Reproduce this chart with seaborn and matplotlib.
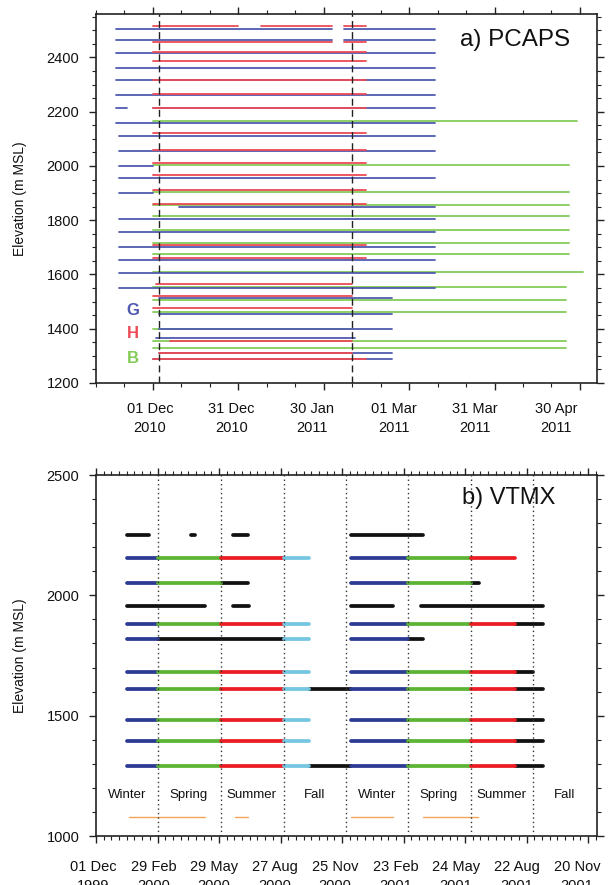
import matplotlib
matplotlib.use("Agg")
import matplotlib.pyplot as plt
import matplotlib.dates as mdates
import matplotlib.ticker as mticker
from matplotlib.transforms import ScaledTranslation
import seaborn as sns
import pandas as pd

sns.set_theme(style="ticks")
plt.rcParams["font.family"] = ["Liberation Sans", "DejaVu Sans"]

# ---------------- a) PCAPS : sensor records per network ----------------
g_elev = [2505, 2505, 2465, 2465, 2415, 2360, 2315, 2260, 2215, 2215, 2160, 2110, 2055, 2000,
          1955, 1900, 1850, 1805, 1755, 1700, 1655, 1605, 1550, 1515, 1455, 1400, 1365, 1310, 1290]
g_start = ["2010-11-18", "2011-02-06", "2010-11-18", "2011-02-06", "2010-11-18", "2010-11-18",
           "2010-11-18", "2010-11-18", "2010-11-18", "2010-12-01", "2010-11-18", "2010-11-19",
           "2010-11-19", "2010-11-19", "2010-11-19", "2010-11-19", "2010-12-10", "2010-11-19",
           "2010-11-19", "2010-11-19", "2010-11-19", "2010-11-19", "2010-11-19", "2010-12-03",
           "2010-12-03", "2010-12-03", "2010-12-02", "2010-12-03", "2010-12-01"]
g_end = ["2011-02-02", "2011-03-10", "2011-02-02", "2011-03-10", "2011-03-10", "2011-03-10",
         "2011-03-10", "2011-03-10", "2010-11-22", "2011-03-10", "2011-03-10", "2011-03-10",
         "2011-03-10", "2010-12-01", "2011-03-10", "2010-12-01", "2011-03-10", "2011-03-10",
         "2011-03-10", "2011-03-10", "2011-03-10", "2011-03-10", "2011-03-10", "2011-02-23",
         "2011-02-23", "2011-02-23", "2011-02-10", "2011-02-23", "2011-02-23"]

h_elev = [2515, 2515, 2515, 2455, 2455, 2420, 2385, 2315, 2265, 2215, 2120, 2060, 2010, 1965,
          1910, 1860, 1710, 1660, 1565, 1520, 1475, 1355, 1310, 1290]
h_start = ["2010-12-01", "2011-01-08", "2011-02-06", "2010-12-01", "2011-02-06", "2010-12-01",
           "2010-12-01", "2010-12-01", "2010-12-01", "2010-12-01", "2010-12-01", "2010-12-01",
           "2010-12-01", "2010-12-01", "2010-12-01", "2010-12-01", "2010-12-01", "2010-12-01",
           "2010-12-02", "2010-12-01", "2010-12-01", "2010-12-07", "2010-12-03", "2010-12-01"]
h_end = ["2010-12-31", "2011-02-02", "2011-02-14", "2011-02-02", "2011-02-14", "2011-02-14",
         "2011-02-14", "2011-02-14", "2011-02-14", "2011-02-14", "2011-02-14", "2011-02-14",
         "2011-02-14", "2011-02-14", "2011-02-14", "2011-02-14", "2011-02-14", "2011-02-14",
         "2011-02-09", "2011-02-09", "2011-02-09", "2011-02-09", "2011-02-09", "2011-02-14"]

b_elev = [2165, 2005, 1905, 1855, 1815, 1765, 1715, 1675, 1610, 1555, 1505, 1460, 1400, 1355, 1330]
b_start = ["2010-12-01"] * 15
b_end = ["2011-04-29", "2011-04-26", "2011-04-26", "2011-04-26", "2011-04-26", "2011-04-26",
         "2011-04-26", "2011-04-26", "2011-05-01", "2011-04-25", "2011-04-25", "2011-04-25",
         "2011-02-09", "2011-04-25", "2011-04-25"]

iop_bounds = ["2010-12-03", "2011-02-09"]
net_labels = ["G", "H", "B"]
net_label_elev = [1469, 1381, 1292]
net_colors = {"G": "#4f5ab0", "H": "#ec4b55", "B": "#84cc58"}

a_major = ["2010-12-01", "2010-12-31", "2011-01-30", "2011-03-01", "2011-03-31", "2011-04-30"]

# ---------------- b) VTMX : seasonal records per level ----------------
vt_elev = [2250, 2250, 2250, 2250,
           2155, 2155, 2155, 2155, 2155, 2155, 2155,
           2050, 2050, 2050, 2050, 2050, 2050,
           1955, 1955, 1955, 1955,
           1880, 1880, 1880, 1880, 1880, 1880, 1880, 1880,
           1820, 1820, 1820, 1820, 1820,
           1680, 1680, 1680, 1680, 1680, 1680, 1680, 1680,
           1610, 1610, 1610, 1610, 1610, 1610, 1610, 1610, 1610,
           1480, 1480, 1480, 1480, 1480, 1480, 1480, 1480,
           1395, 1395, 1395, 1395, 1395, 1395, 1395, 1395,
           1290, 1290, 1290, 1290, 1290, 1290, 1290, 1290, 1290]
vt_start = ["2000-01-16", "2000-04-18", "2000-06-19", "2000-12-08",
            "2000-01-16", "2000-03-01", "2000-06-01", "2000-09-01", "2000-12-08", "2001-03-01", "2001-06-01",
            "2000-01-16", "2000-03-01", "2000-06-01", "2000-12-08", "2001-03-01", "2001-06-01",
            "2000-01-16", "2000-06-19", "2000-12-08", "2001-03-21",
            "2000-01-16", "2000-03-01", "2000-06-01", "2000-09-01", "2000-12-08", "2001-03-01", "2001-06-01", "2001-08-05",
            "2000-01-16", "2000-03-01", "2000-09-01", "2000-12-08", "2001-03-02",
            "2000-01-16", "2000-03-01", "2000-06-01", "2000-09-01", "2000-12-08", "2001-03-01", "2001-06-01", "2001-08-05",
            "2000-01-16", "2000-03-01", "2000-06-01", "2000-09-01", "2000-10-07", "2000-12-08", "2001-03-01", "2001-06-01", "2001-08-05",
            "2000-01-16", "2000-03-01", "2000-06-01", "2000-09-01", "2000-12-08", "2001-03-01", "2001-06-01", "2001-08-05",
            "2000-01-16", "2000-03-01", "2000-06-01", "2000-09-01", "2000-12-08", "2001-03-01", "2001-06-01", "2001-08-05",
            "2000-01-16", "2000-03-01", "2000-06-01", "2000-09-01", "2000-10-07", "2000-12-08", "2001-03-01", "2001-06-01", "2001-08-05"]
vt_end = ["2000-02-16", "2000-04-24", "2000-07-11", "2001-03-24",
          "2000-03-01", "2000-06-01", "2000-09-01", "2000-10-07", "2001-03-01", "2001-06-01", "2001-08-05",
          "2000-03-01", "2000-06-01", "2000-07-11", "2001-03-01", "2001-06-01", "2001-06-14",
          "2000-05-09", "2000-07-12", "2001-02-08", "2001-09-15",
          "2000-03-01", "2000-06-01", "2000-09-01", "2000-10-07", "2001-03-01", "2001-06-01", "2001-08-05", "2001-09-15",
          "2000-03-01", "2000-09-01", "2000-10-07", "2001-03-02", "2001-03-24",
          "2000-03-01", "2000-06-01", "2000-09-01", "2000-10-07", "2001-03-01", "2001-06-01", "2001-08-05", "2001-09-01",
          "2000-03-01", "2000-06-01", "2000-09-01", "2000-10-07", "2000-12-08", "2001-03-01", "2001-06-01", "2001-08-05", "2001-09-15",
          "2000-03-01", "2000-06-01", "2000-09-01", "2000-10-07", "2001-03-01", "2001-06-01", "2001-08-05", "2001-09-15",
          "2000-03-01", "2000-06-01", "2000-09-01", "2000-10-07", "2001-03-01", "2001-06-01", "2001-08-05", "2001-09-15",
          "2000-03-01", "2000-06-01", "2000-09-01", "2000-10-07", "2000-12-08", "2001-03-01", "2001-06-01", "2001-08-05", "2001-09-15"]
vt_kind = ["X", "X", "X", "X",
           "W", "Sp", "Su", "F", "W", "Sp", "Su",
           "W", "Sp", "X", "W", "Sp", "X",
           "X", "X", "X", "X",
           "W", "Sp", "Su", "F", "W", "Sp", "Su", "X",
           "W", "X", "F", "W", "X",
           "W", "Sp", "Su", "F", "W", "Sp", "Su", "X",
           "W", "Sp", "Su", "F", "X", "W", "Sp", "Su", "X",
           "W", "Sp", "Su", "F", "W", "Sp", "Su", "X",
           "W", "Sp", "Su", "F", "W", "Sp", "Su", "X",
           "W", "Sp", "Su", "F", "X", "W", "Sp", "Su", "X"]
kind_colors = {"X": "#111111", "W": "#2c3a92", "Sp": "#5cb434", "Su": "#ec1c24", "F": "#74c6e2"}

gap_elev = [1080, 1080, 1080, 1080]
gap_start = ["2000-01-18", "2000-06-21", "2000-12-08", "2001-03-23"]
gap_end = ["2000-05-08", "2000-07-10", "2001-02-07", "2001-06-12"]

season_bounds = ["2000-03-01", "2000-06-01", "2000-09-01", "2000-12-01",
                 "2001-03-01", "2001-06-01", "2001-09-01"]
season_names = ["Winter", "Spring", "Summer", "Fall", "Winter", "Spring", "Summer", "Fall"]
season_mid = ["2000-01-15", "2000-04-15", "2000-07-16", "2000-10-16",
              "2001-01-15", "2001-04-15", "2001-07-16", "2001-10-16"]
season_label_elev = 1170

b_major = pd.date_range("1999-12-01", periods=9, freq="90D")


def seg_frame(elev, start, end, group, tag):
    n = len(elev)
    ids = [f"{tag}{i}" for i in range(n)]
    grp = [group] * n if isinstance(group, str) else list(group)
    return pd.DataFrame({
        "seg": ids * 2,
        "date": pd.to_datetime(list(start) + list(end)),
        "elev": list(elev) * 2,
        "group": grp * 2,
    })


def dress(ax, xlim, major, minor, ylim, ystep, yminor, pad):
    ax.set_xlim(pd.to_datetime(xlim[0]), pd.to_datetime(xlim[1]))
    ax.set_ylim(*ylim)
    ax.xaxis.set_major_locator(mticker.FixedLocator(mdates.date2num(pd.to_datetime(major))))
    ax.xaxis.set_major_formatter(mdates.DateFormatter("%d %b\n%Y"))
    ax.xaxis.set_minor_locator(mticker.FixedLocator(mdates.date2num(minor)))
    ax.yaxis.set_major_locator(mticker.MultipleLocator(ystep))
    ax.yaxis.set_minor_locator(mticker.MultipleLocator(yminor))
    ax.tick_params(which="both", direction="out", top=True, right=True,
                   color="#222222", labelcolor="#111111")
    ax.tick_params(which="major", length=5, width=1.0, labelsize=10.5)
    ax.tick_params(axis="x", which="major", pad=pad)
    ax.tick_params(axis="y", which="major", pad=7)
    ax.tick_params(which="minor", length=3, width=0.8)
    for s in ax.spines.values():
        s.set_color("#222222")
        s.set_linewidth(1.2)
    ax.set_xlabel("")
    ax.set_ylabel("Elevation (m MSL)", fontsize=10, color="#111111")
    ax.yaxis.set_label_coords(-0.137, 0.5)
    for lbl in ax.get_xticklabels():
        lbl.set_linespacing(1.45)


fig = plt.figure(figsize=(6.09, 8.85), dpi=100)
ax_a = fig.add_axes([96 / 609, 1 - 383 / 885, 501 / 609, 369 / 885])
ax_b = fig.add_axes([96 / 609, 1 - 836 / 885, 501 / 609, 361 / 885])

# ---- panel a
pcaps = pd.concat([seg_frame(b_elev, b_start, b_end, "B", "b"),
                   seg_frame(g_elev, g_start, g_end, "G", "g"),
                   seg_frame(h_elev, h_start, h_end, "H", "h")], ignore_index=True)
sns.lineplot(data=pcaps, x="date", y="elev", hue="group", units="seg", estimator=None,
             hue_order=["B", "G", "H"], palette=net_colors, linewidth=1.3,
             sort=False, legend=False, ax=ax_a)
for d in iop_bounds:
    ax_a.axvline(pd.to_datetime(d), color="#222222", lw=1.0, dashes=(5, 3))
for name, e in zip(net_labels, net_label_elev):
    ax_a.text(pd.to_datetime("2010-11-24"), e, name, color=net_colors[name],
              fontsize=12, fontweight="bold", ha="center", va="center")
ax_a.text(0.946, 0.93, "a) PCAPS", transform=ax_a.transAxes, fontsize=17.5,
          ha="right", va="center", color="#111111")
dress(ax_a, ("2010-11-11", "2011-05-06"), a_major,
      pd.date_range("2010-11-11", "2011-05-06", freq="10D"),
      (1200, 2560), 200, 50, pad=9)

# ---- panel b
vtmx = seg_frame(vt_elev, vt_start, vt_end, vt_kind, "v")
sns.lineplot(data=vtmx, x="date", y="elev", hue="group", units="seg", estimator=None,
             hue_order=["X", "W", "Sp", "Su", "F"], palette=kind_colors, linewidth=2.7,
             solid_capstyle="round", sort=False, legend=False, ax=ax_b)
gaps = seg_frame(gap_elev, gap_start, gap_end, "gap", "o")
sns.lineplot(data=gaps, x="date", y="elev", units="seg", estimator=None, color="#f2a55a",
             linewidth=1.0, sort=False, legend=False, ax=ax_b)
for d in season_bounds:
    ax_b.axvline(pd.to_datetime(d), color="#333333", lw=1.0, ls=(0, (1, 2.2)))
for name, d in zip(season_names, season_mid):
    ax_b.text(pd.to_datetime(d), season_label_elev, name, fontsize=9.5,
              ha="center", va="center", color="#111111")
ax_b.text(0.916, 0.935, "b) VTMX", transform=ax_b.transAxes, fontsize=17,
          ha="right", va="center", color="#111111")
dress(ax_b, ("1999-12-01", "2001-12-03"), b_major,
      pd.date_range("1999-12-01", "2001-12-03", freq="270h"),
      (1000, 2500), 500, 100, pad=12)

# the printed date labels sit a little left of their tick marks in the original
for ax, step in ((ax_a, 4.2), (ax_b, 1.0)):
    for k, lbl in enumerate(ax.get_xticklabels()):
        shift = -(3 + step * k) / 100
        lbl.set_transform(lbl.get_transform() + ScaledTranslation(shift, 0, fig.dpi_scale_trans))

fig.savefig("out.png", dpi=100)
